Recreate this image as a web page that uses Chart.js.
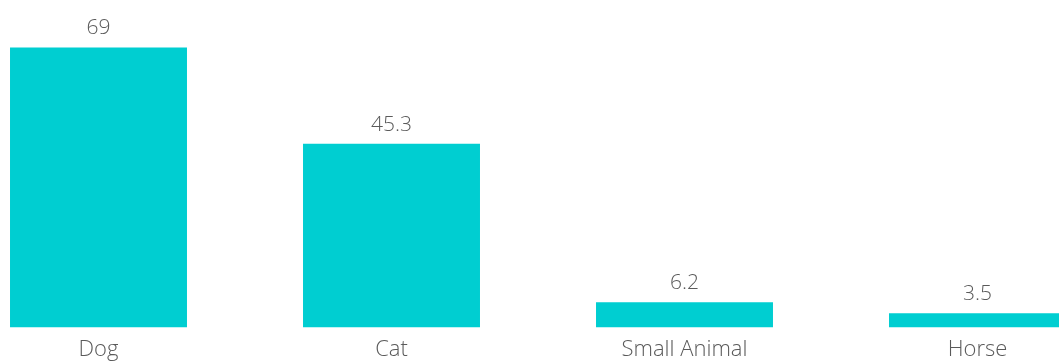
<!DOCTYPE html>
<html>
<head>
<meta charset="utf-8">
<script src="https://cdn.jsdelivr.net/npm/chart.js@4/dist/chart.umd.min.js"></script>
<style>
  html, body { margin: 0; padding: 0; background: #fff; overflow: hidden; }
  body { width: 1059px; height: 363px; position: relative; }
  #wrap { position: absolute; left: -48px; top: 0; width: 1172px; height: 363px; }
</style>
</head>
<body>
<div id="wrap"><canvas id="chart"></canvas></div>
<script>
const categories = ["Dog", "Cat", "Small Animal", "Horse"];
const values = [69, 45.3, 6.2, 3.5];

const barColor = "#00ced1";
const textColor = "#5a5a5a";
const fontFamily = "'Open Sans', Lato, sans-serif";

// draws the value above each bar
const valueLabels = {
  id: "valueLabels",
  afterDatasetsDraw(chart) {
    const ctx = chart.ctx;
    const meta = chart.getDatasetMeta(0);
    ctx.save();
    ctx.fillStyle = textColor;
    ctx.font = `300 21px ${fontFamily}`;
    ctx.textAlign = "center";
    ctx.textBaseline = "alphabetic";
    meta.data.forEach((bar, i) => {
      ctx.fillText(String(values[i]), bar.x, bar.y - 13);
    });
    ctx.restore();
  },
};

new Chart(document.getElementById("chart"), {
  type: "bar",
  data: {
    labels: categories,
    datasets: [{
      data: values,
      backgroundColor: barColor,
      borderWidth: 0,
      categoryPercentage: 1,
      barPercentage: 0.604,
    }],
  },
  options: {
    responsive: true,
    maintainAspectRatio: false,
    animation: false,
    layout: { padding: 0 },
    plugins: {
      legend: { display: false },
      tooltip: { enabled: false },
    },
    scales: {
      x: {
        grid: { display: false, drawTicks: false },
        border: { display: false },
        ticks: {
          color: textColor,
          padding: 9,
          font: { family: fontFamily, size: 22, weight: 300 },
        },
        afterFit(scale) {
          scale.height = 35.5;
        },
      },
      y: {
        display: false,
        min: 0,
        max: 80.7,
      },
    },
  },
  plugins: [valueLabels],
});
</script>
</body>
</html>
